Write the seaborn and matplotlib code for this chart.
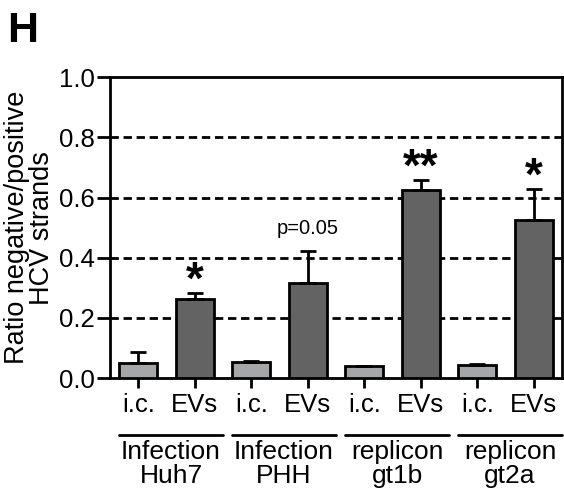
import seaborn as sns
import matplotlib.pyplot as plt
import pandas as pd

# data
conditions = ["i.c.", "EVs", "i.c.", "EVs", "i.c.", "EVs", "i.c.", "EVs"]
groups = ["Infection\nHuh7", "Infection\nPHH", "replicon\ngt1b", "replicon\ngt2a"]
ratio = [0.050, 0.262, 0.054, 0.315, 0.040, 0.624, 0.044, 0.526]
sem = [0.037, 0.021, 0.003, 0.106, 0.002, 0.035, 0.003, 0.103]
signif = ["", "*", "", "p=0.05", "", "**", "", "*"]

bar_colors = ["#a5a6a8", "#636363"] * 4

sns.set_style("ticks")
plt.rcParams["font.family"] = ["Liberation Sans", "DejaVu Sans"]
plt.rcParams.update({"text.color": "black", "axes.labelcolor": "black",
                     "xtick.color": "black", "ytick.color": "black"})

df = pd.DataFrame({"bar": [f"b{i}" for i in range(len(ratio))], "ratio": ratio})

fig = plt.figure(figsize=(5.64, 4.95), dpi=100)
ax = fig.add_axes([0.195, 0.236, 0.8015, 0.608])

sns.barplot(data=df, x="bar", y="ratio", hue="bar", palette=bar_colors,
            legend=False, width=0.68, edgecolor="black", linewidth=2,
            saturation=1, ax=ax, zorder=3)
ax.errorbar(range(len(ratio)), ratio, yerr=[[0] * len(sem), sem], fmt="none",
            ecolor="black", elinewidth=2, capsize=6, capthick=2, zorder=4)

for i, s in enumerate(signif):
    if not s:
        continue
    top = ratio[i] + sem[i]
    if s.startswith("p"):
        ax.annotate(s, (i, top), xytext=(0, 10), textcoords="offset points",
                    ha="center", va="bottom", fontsize=14.5)
    else:
        ax.annotate(s, (i, top), xytext=(0, -8), textcoords="offset points",
                    ha="center", va="bottom", fontsize=33, fontweight="bold")

ax.set_ylim(0, 1.0)
ax.set_xlim(-0.5, 7.5)
ax.set_yticks([0, 0.2, 0.4, 0.6, 0.8, 1.0])
ax.set_yticklabels(["0.0", "0.2", "0.4", "0.6", "0.8", "1.0"])
for y in [0.2, 0.4, 0.6, 0.8]:
    ax.axhline(y, color="black", linestyle=(0, (3, 1.7)), linewidth=2, zorder=1)
ax.set_xticks(range(len(conditions)))
ax.set_xticklabels(conditions)
ax.tick_params(axis="both", labelsize=18.5, width=2, color="black")
ax.tick_params(axis="y", length=9.5, pad=1.5)
ax.tick_params(axis="x", length=7, pad=4)
for sp in ax.spines.values():
    sp.set_linewidth(2)
    sp.set_color("black")
ax.set_xlabel("")
ax.set_ylabel("Ratio negative/positive\nHCV strands", fontsize=19.5, labelpad=3,
              linespacing=0.95)

# group brackets under the tick labels
trans = ax.get_xaxis_transform()
for k, g in enumerate(groups):
    x0 = 2 * k - 0.34
    x1 = 2 * k + 1.5
    ax.plot([x0, x1], [-0.19, -0.19], color="black", linewidth=2,
            transform=trans, clip_on=False)
    ax.text(2 * k + 0.58, -0.205, g, transform=trans, ha="center", va="top",
            fontsize=19, linespacing=1.0)

fig.text(0.012, 0.978, "H", fontsize=31, fontweight="bold", va="top", ha="left")

fig.savefig("out.png", dpi=100)
